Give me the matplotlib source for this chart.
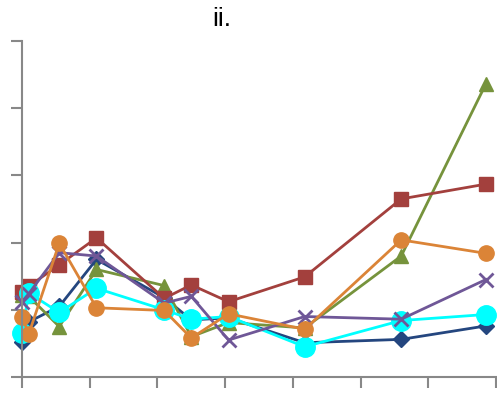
import matplotlib
matplotlib.use("Agg")
import matplotlib.pyplot as plt

# sampling points shared by every series
x = [0, 0.2, 1.1, 2.2, 4.2, 5.0, 6.1, 8.35, 11.2, 13.7]

navy = [0.52, 0.82, 1.05, 1.75, 1.18, 0.85, 0.88, 0.51, 0.56, 0.76]
green = [1.22, 1.20, 0.75, 1.60, 1.36, 0.60, 0.81, 0.73, 1.80, 4.36]
red = [1.27, 1.35, 1.67, 2.07, 1.17, 1.37, 1.12, 1.49, 2.65, 2.87]
cyan = [0.66, 1.25, 0.96, 1.32, 1.00, 0.86, 0.90, 0.45, 0.84, 0.93]
purple = [1.12, 1.24, 1.85, 1.80, 1.10, 1.20, 0.55, 0.90, 0.86, 1.45]
orange = [0.90, 0.64, 1.99, 1.03, 0.99, 0.58, 0.94, 0.71, 2.04, 1.84]

series = [
    (navy, "#24467f", "D", 8),
    (green, "#76933c", "^", 10),
    (red, "#a3403d", "s", 10),
    (cyan, "#00ffff", "o", 14),
    (purple, "#6f5797", "x", 10),
    (orange, "#db8437", "o", 11),
]

fig = plt.figure(figsize=(4.97, 3.95), dpi=100)
ax = fig.add_axes([22 / 497, 18 / 395, 474 / 497, 336 / 395])

for vals, col, mk, ms in series:
    kw = dict(markeredgewidth=2) if mk == "x" else dict(markeredgecolor=col)
    ax.plot(x, vals, color=col, lw=2, marker=mk, markersize=ms, clip_on=False, **kw)

ax.set_xlim(0, 14)
ax.set_ylim(0, 5)
ax.set_xticks(range(0, 15, 2))
ax.set_yticks(range(0, 6))
ax.set_xticklabels([])
ax.set_yticklabels([])
for s in ("top", "right"):
    ax.spines[s].set_visible(False)
for s in ("left", "bottom"):
    ax.spines[s].set_color("#888888")
    ax.spines[s].set_linewidth(1.5)
ax.tick_params(length=8, width=1.5, color="#888888", direction="out")

fig.text(222 / 497, 1 - 19 / 395, "ii.", ha="center", va="center",
         fontsize=19, family="Liberation Sans")

fig.savefig("out.png", dpi=100)
